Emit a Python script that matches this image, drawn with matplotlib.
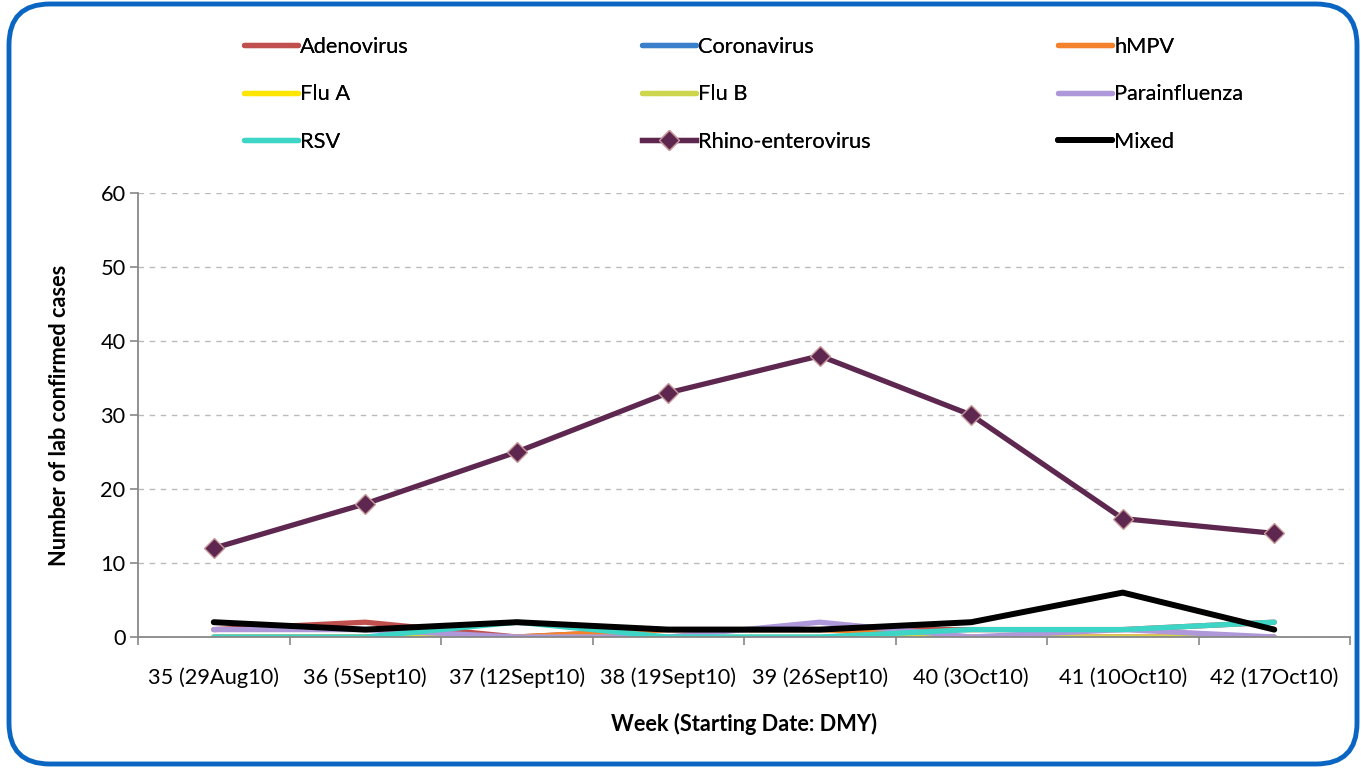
import numpy as np
import matplotlib
matplotlib.use('Agg')
import matplotlib.pyplot as plt
from matplotlib.patches import FancyBboxPatch

weeks = ['35 (29Aug10)', '36 (5Sept10)', '37 (12Sept10)', '38 (19Sept10)',
         '39 (26Sept10)', '40 (3Oct10)', '41 (10Oct10)', '42 (17Oct10)']

adenovirus    = [1, 2, 0, 1, 1, 1, 1, 2]
coronavirus   = [0, 0, 0, 0, 0, 0, 0, 0]
hmpv          = [0, 0, 0, 1, 1, 0, 0, 0]
flu_a         = [0, 0, 0, 0, 0, 0, 0, 0]
flu_b         = [0, 0, 0, 0, 0, 0, 0, 0]
parainfluenza = [1, 1, 0, 0, 2, 0, 1, 0]
rsv           = [0, 0, 2, 0, 0, 1, 1, 2]
rhino         = [12, 18, 25, 33, 38, 30, 16, 14]
mixed         = [2, 1, 2, 1, 1, 2, 6, 1]

series = [
    ('Adenovirus', adenovirus, '#C0504D'),
    ('Coronavirus', coronavirus, '#3A7FCC'),
    ('hMPV', hmpv, '#F4822C'),
    ('Flu A', flu_a, '#FFE600'),
    ('Flu B', flu_b, '#CDD64C'),
    ('Parainfluenza', parainfluenza, '#AE98DA'),
    ('RSV', rsv, '#3DD6C6'),
]

FS = 15.7
plt.rcParams['font.family'] = ['Lato', 'DejaVu Sans']

fig = plt.figure(figsize=(13.61, 7.70), dpi=100)
fig.patch.set_facecolor('white')

# rounded blue frame
frame = FancyBboxPatch((9 / 1361, 6 / 770), 1348 / 1361, 760 / 770,
                       boxstyle='round,pad=0,rounding_size=0.03',
                       transform=fig.transFigure, facecolor='none',
                       edgecolor='#0A66C2', linewidth=3.5, mutation_aspect=1361 / 770)
fig.patches.append(frame)

ax = fig.add_axes([138 / 1361, 133 / 770, 1212 / 1361, 444 / 770])
x = np.arange(len(weeks))

handles = []
for name, vals, col in series:
    h, = ax.plot(x, vals, color=col, linewidth=3.8, solid_capstyle='round', label=name)
    handles.append(h)

h_rh, = ax.plot(x, rhino, color='#5E2750', linewidth=3.8, marker='D', markersize=10,
                markerfacecolor='#5E2750', markeredgecolor='#C99A9A', markeredgewidth=1,
                label='Rhino-enterovirus')
h_mx, = ax.plot(x, mixed, color='black', linewidth=4.3, solid_capstyle='round', label='Mixed')
handles += [h_rh, h_mx]

ax.set_xlim(-0.5, len(weeks) - 0.5)
ax.set_ylim(0, 60)
ax.set_yticks(np.arange(0, 61, 10))
ax.yaxis.grid(True, linestyle=(0, (4, 4)), color='#BBBBBB', linewidth=1)
ax.set_axisbelow(True)

ax.set_xticks(x)
ax.set_xticklabels(weeks, fontsize=FS)
ax.set_xticks(np.arange(-0.5, len(weeks)), minor=True)
ax.tick_params(axis='x', which='major', length=0, pad=22)
ax.tick_params(axis='x', which='minor', length=6, color='#888888', width=1.2, direction='out')
ax.tick_params(axis='y', length=6, color='#888888', width=1.2, labelsize=FS, pad=3)

for s in ['top', 'right']:
    ax.spines[s].set_visible(False)
for s in ['left', 'bottom']:
    ax.spines[s].set_color('#888888')
    ax.spines[s].set_linewidth(1.3)

ax.set_ylabel('Number of lab confirmed cases', fontsize=FS, fontweight='bold', labelpad=22)
ax.set_xlabel('Week (Starting Date: DMY)', fontsize=FS, fontweight='bold', labelpad=18)

# legend: three columns at fixed positions, row-wise order
col_x = [243 / 1361, 641 / 1361, 1057 / 1361]
for c in range(3):
    col_handles = [handles[c], handles[c + 3], handles[c + 6]]
    leg = fig.legend(handles=col_handles, loc='upper left',
                     bbox_to_anchor=(col_x[c] - 0.006, 1 - 28 / 770),
                     frameon=False, fontsize=FS, handlelength=2.5, handletextpad=0.1,
                     labelspacing=1.27, borderaxespad=0)
    fig.add_artist(leg)

fig.savefig('out.png', dpi=100, facecolor='white')
